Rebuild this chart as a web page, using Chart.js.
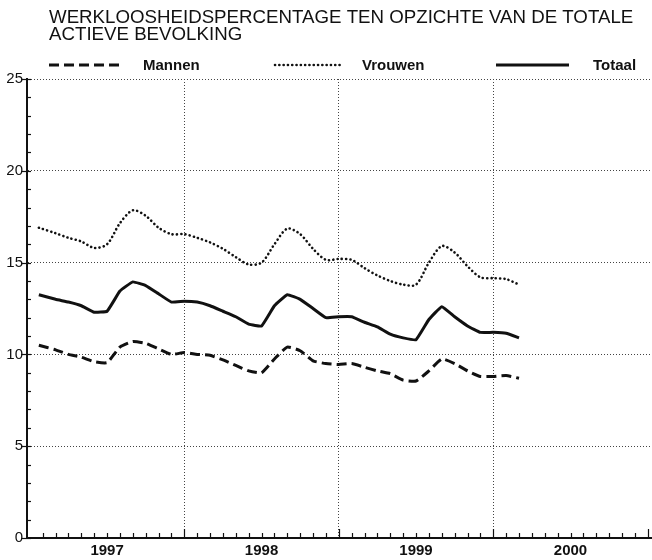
<!DOCTYPE html>
<html>
<head>
<meta charset="utf-8">
<script src="https://cdn.jsdelivr.net/npm/chart.js@4/dist/chart.umd.min.js"></script>
<style>
  body { margin: 0; background: #fff; }
  #wrap { width: 652px; height: 560px; position: relative; }
</style>
</head>
<body>
<div id="wrap"><canvas id="grafiek"></canvas></div>
<script>
// maanden sinds januari 1997 (0 = begin 1997)
const maand = [0.7, 2, 3, 4, 5, 6, 7, 8, 9, 10, 11, 12,
  13, 14, 15, 16, 17, 18, 19, 20, 21, 22, 23, 24,
  25, 26, 27, 28, 29, 30, 31, 32, 33, 34, 35, 36, 37, 38];

const mannen = [10.5, 10.25, 10.0, 9.85, 9.6, 9.55, 10.4, 10.7, 10.6, 10.3, 10.0, 10.1,
  10.0, 9.95, 9.7, 9.4, 9.1, 9.0, 9.75, 10.4, 10.2, 9.65, 9.5, 9.45,
  9.5, 9.3, 9.1, 8.95, 8.6, 8.55, 9.1, 9.75, 9.5, 9.1, 8.8, 8.8, 8.85, 8.7];

const vrouwen = [16.9, 16.6, 16.35, 16.15, 15.8, 16.0, 17.15, 17.85, 17.55, 16.9, 16.55, 16.55,
  16.35, 16.1, 15.75, 15.3, 14.9, 15.0, 16.0, 16.85, 16.55, 15.75, 15.15, 15.2,
  15.15, 14.7, 14.3, 14.0, 13.8, 13.8, 15.0, 15.9, 15.55, 14.8, 14.2, 14.15, 14.1, 13.8];

const totaal = [13.25, 13.0, 12.85, 12.65, 12.3, 12.35, 13.45, 13.95, 13.75, 13.3, 12.85, 12.9,
  12.85, 12.65, 12.35, 12.05, 11.65, 11.55, 12.65, 13.25, 13.0, 12.5, 12.0, 12.05,
  12.05, 11.75, 11.5, 11.1, 10.9, 10.8, 11.9, 12.6, 12.05, 11.55, 11.2, 11.2, 11.15, 10.9];

const jaren = ["1997", "1998", "1999", "2000"];
const titel = ["WERKLOOSHEIDSPERCENTAGE TEN OPZICHTE VAN DE TOTALE", "ACTIEVE BEVOLKING"];

const zwart = "#111";

function punten(reeks) {
  return reeks.map((v, i) => ({ x: maand[i], y: v }));
}

// titel, legende en de kleine streepjes langs de assen
const kader = {
  id: "kader",
  afterDraw(chart) {
    const ctx = chart.ctx;
    const x = chart.scales.x;
    const y = chart.scales.y;
    const area = chart.chartArea;
    ctx.save();
    ctx.fillStyle = zwart;
    ctx.strokeStyle = zwart;

    ctx.font = '18.7px "Liberation Sans", Arial, sans-serif';
    ctx.textBaseline = "alphabetic";
    ctx.fillText(titel[0], 49, 23);
    ctx.fillText(titel[1], 49, 39.5);

    // legende
    const items = [
      { x1: 49, x2: 120, tx: 143, ds: chart.data.datasets[0] },
      { x1: 275, x2: 340, tx: 362, ds: chart.data.datasets[1] },
      { x1: 496, x2: 569, tx: 593, ds: chart.data.datasets[2] },
    ];
    ctx.font = 'bold 15px "Liberation Sans", Arial, sans-serif';
    items.forEach(it => {
      ctx.save();
      ctx.lineWidth = it.ds.borderWidth;
      ctx.setLineDash(it.ds.borderDash || []);
      ctx.lineCap = it.ds.borderCapStyle || "butt";
      ctx.beginPath();
      ctx.moveTo(it.x1, 65);
      ctx.lineTo(it.x2, 65);
      ctx.stroke();
      ctx.restore();
      ctx.fillText(it.ds.label, it.tx, 69.5);
    });

    // streepjes y-as
    ctx.lineWidth = 1.2;
    for (let v = 0; v <= 25; v++) {
      const py = Math.round(y.getPixelForValue(v)) + 0.5;
      ctx.beginPath();
      if (v % 5 === 0) {
        ctx.moveTo(area.left - 6, py);
      } else {
        ctx.moveTo(area.left, py);
      }
      ctx.lineTo(area.left + 4, py);
      ctx.stroke();
    }

    // streepjes x-as (per maand)
    for (let m = 1; m <= 48; m++) {
      const px = Math.round(x.getPixelForValue(m)) + 0.5;
      if (px > area.right) break;
      ctx.beginPath();
      ctx.moveTo(px, area.bottom);
      ctx.lineTo(px, area.bottom - (m % 12 === 0 ? 9 : 5));
      ctx.stroke();
    }
    ctx.restore();
  }
};

new Chart(document.getElementById("grafiek"), {
  type: "line",
  data: {
    datasets: [
      {
        label: "Mannen",
        data: punten(mannen),
        borderColor: zwart,
        borderWidth: 3,
        borderDash: [10, 5],
        tension: 0.15,
        pointRadius: 0,
      },
      {
        label: "Vrouwen",
        data: punten(vrouwen),
        borderColor: zwart,
        borderWidth: 2.6,
        borderDash: [0.1, 4.2],
        borderCapStyle: "round",
        tension: 0.3,
        pointRadius: 0,
      },
      {
        label: "Totaal",
        data: punten(totaal),
        borderColor: zwart,
        borderWidth: 3,
        tension: 0.1,
        pointRadius: 0,
      },
    ],
  },
  options: {
    responsive: true,
    maintainAspectRatio: false,
    animation: false,
    events: [],
    layout: { padding: { top: 79, left: 0, right: 0, bottom: 0 } },
    plugins: {
      legend: { display: false },
      title: { display: false },
      tooltip: { enabled: false },
    },
    scales: {
      x: {
        type: "linear",
        min: -0.22,
        max: 48.33,
        afterBuildTicks: s => {
          s.ticks = [6, 12, 18, 24, 30, 36, 42].map(v => ({ value: v }));
        },
        afterFit: s => { s.height = 22; },
        ticks: {
          autoSkip: false,
          maxRotation: 0,
          padding: 4,
          color: zwart,
          font: { family: '"Liberation Sans", Arial, sans-serif', size: 15, weight: "bold" },
          callback: v => (v % 12 === 6 ? jaren[(v - 6) / 12] : ""),
        },
        grid: {
          drawTicks: false,
          lineWidth: 1,
          color: c => (c.tick && c.tick.value % 12 === 0 ? "#444" : "transparent"),
        },
        border: { display: true, color: zwart, width: 2, dash: [1, 2] },
      },
      y: {
        min: 0,
        max: 25,
        afterFit: s => { s.width = 27; },
        ticks: {
          stepSize: 5,
          padding: 4,
          color: zwart,
          font: { family: '"Liberation Sans", Arial, sans-serif', size: 15 },
        },
        grid: {
          drawTicks: false,
          lineWidth: 1,
          color: c => (c.tick && c.tick.value > 0 ? "#444" : "transparent"),
        },
        border: { display: true, color: zwart, width: 2, dash: [1, 2] },
      },
    },
  },
  plugins: [kader],
});
</script>
</body>
</html>
